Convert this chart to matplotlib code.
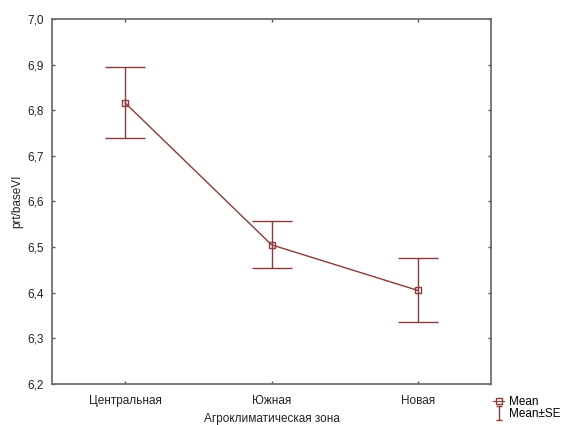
import matplotlib
matplotlib.use("Agg")
import matplotlib.pyplot as plt
from matplotlib.lines import Line2D
from matplotlib.path import Path

plt.rcParams['font.family'] = ['Liberation Sans', 'DejaVu Sans']

categories = ["Центральная", "Южная", "Новая"]
means = [6.816, 6.505, 6.405]
upper = [6.895, 6.557, 6.477]
lower = [6.739, 6.454, 6.336]

color = "#8b3a3a"
fs = 8.5

fig = plt.figure(figsize=(5.63, 4.25), dpi=100)
ax = fig.add_axes([0.0924, 0.0965, 0.780, 0.8588])

x = list(range(len(categories)))
yerr = [[m - l for m, l in zip(means, lower)], [u - m for m, u in zip(means, upper)]]
ax.errorbar(x, means, yerr=yerr, fmt='none', ecolor=color, elinewidth=1.0,
            capsize=14.5, capthick=1.0)
ax.plot(x, means, color=color, lw=1.0, marker='s', ms=5, mfc='none', mec=color, mew=1.0)

ax.set_xlim(-0.5, 2.5)
ax.set_ylim(6.2, 7.0)
ax.set_xticks(x)
ax.set_xticklabels(categories)
yt = [6.2 + 0.1 * i for i in range(9)]
ax.set_yticks(yt)
ax.set_yticklabels([f"{v:.1f}".replace('.', ',') for v in yt])
ax.tick_params(direction='in', length=2, width=1, color='#555555', labelsize=fs,
               top=True, right=True, labelcolor='#222222')
ax.tick_params(axis='x', pad=8)
ax.tick_params(axis='y', pad=6)
for s in ax.spines.values():
    s.set_color('#6e6e6e')
    s.set_linewidth(1.3)

ax.set_ylabel("prt/baseVI", fontsize=fs, color='#222222', labelpad=3)
ax.set_xlabel("Агроклиматическая зона", fontsize=fs, color='#222222', labelpad=4.5)

ibeam = Path([(-0.5, 1), (0.5, 1), (0, 1), (0, -1), (-0.5, -1), (0.5, -1)],
             [Path.MOVETO, Path.LINETO, Path.MOVETO, Path.LINETO, Path.MOVETO, Path.LINETO])
mean_h = Line2D([], [], color=color, marker='s', ms=4, mfc='none', lw=0.8)
se_h = Line2D([], [], color=color, marker=ibeam, ms=10, mfc='none', mew=1.0, lw=0)
fig.legend([mean_h, se_h], ["Mean", "Mean±SE"], loc='lower left',
           bbox_to_anchor=(0.868, 0.0),
           frameon=False, fontsize=fs, handlelength=0.9, handletextpad=0.4,
           labelspacing=0.05, borderaxespad=0)

fig.savefig("out.png", dpi=100)
